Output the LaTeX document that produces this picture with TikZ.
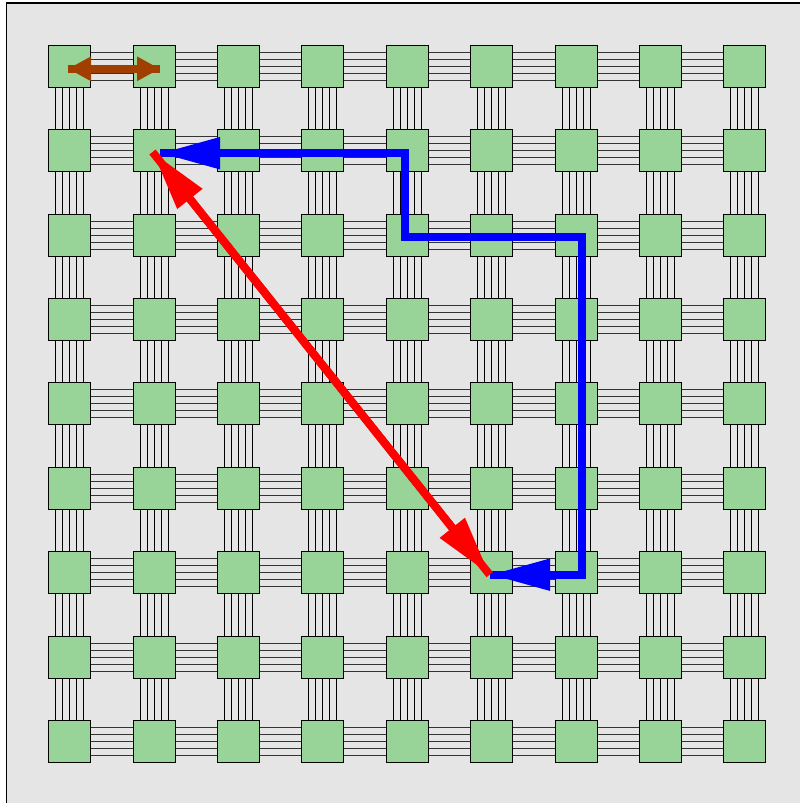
\documentclass[tikz,border=0pt]{standalone}
\usetikzlibrary{arrows.meta}
\definecolor{bg}{HTML}{E5E5E5}
\definecolor{chip}{HTML}{98D398}
\definecolor{wire}{HTML}{333333}
\definecolor{brownarrow}{HTML}{A03F00}
\begin{document}
\begin{tikzpicture}[x=1pt,y=-1pt,
  chipbox/.style={draw=black,line width=1pt,fill=chip,minimum size=42pt,inner sep=0pt},
  hwire/.style={draw=wire,line width=1.4pt},
  vwire/.style={draw=black,line width=1.15pt},
  bigarrow/.style={line width=8pt,line cap=butt,line join=miter},
  bighead/.style={{Triangle[length=60pt,width=30pt]}-{Triangle[length=60pt,width=30pt]}},
  smallhead/.style={{Triangle[length=23pt,width=23pt]}-{Triangle[length=23pt,width=23pt]}}
]
\clip (0,0) rectangle (800,803);
\draw[fill=bg,draw=black,line width=1.3pt] (6.5,3) rectangle (830,830);
% chips
\foreach \i in {0,...,8}{
  \foreach \j in {0,...,8}{
    \node[chipbox] (n-\i-\j) at ({floor(69.8+84.4*\i)+0.5},{floor(66.3+84.4*\j)+0.5}) {};
  }
}
% horizontal wires
\foreach \i in {0,...,7}{
  \foreach \j in {0,...,8}{
    \pgfmathtruncatemacro\ni{\i+1}
    \foreach \o in {-14,-7,0,7,14}{
      \draw[hwire] ([yshift=\o pt]n-\i-\j.east) -- ([yshift=\o pt]n-\ni-\j.west);
    }
  }
}
% vertical wires
\foreach \i in {0,...,8}{
  \foreach \j in {0,...,7}{
    \pgfmathtruncatemacro\nj{\j+1}
    \foreach \o in {-14,-7,0,7,14}{
      \draw[vwire] ([xshift=\o pt]n-\i-\j.south) -- ([xshift=\o pt]n-\i-\nj.north);
    }
  }
}
% brown arrow
\coordinate (w0) at (68,68.8);
\coordinate (w1) at (160,68.8);
\draw[bigarrow,line width=7.7pt,brownarrow] (w0) -- (w1);
\draw[bigarrow,line width=7.7pt,brownarrow,smallhead] (w0) -- (w1);
% blue path
\coordinate (b0) at (490,574.7);
\coordinate (b1) at (581.5,574.7);
\coordinate (b2) at (581.5,236.5);
\coordinate (b3) at (405.3,236.5);
\coordinate (b4) at (405.3,153.2);
\coordinate (b5) at (160,153.2);
\draw[bigarrow,blue] (b0) -- (b1) -- (b2) -- (b3) -- (b4) -- (b5);
\draw[bigarrow,blue,bighead] (b0) -- (b1) -- (b2) -- (b3) -- (b4) -- (b5);
% red arrow
\coordinate (r0) at (152.5,152);
\coordinate (r1) at (489.7,574.7);
\draw[bigarrow,red] (r0) -- (r1);
\draw[bigarrow,red,bighead] (r0) -- (r1);
\end{tikzpicture}
\end{document}
